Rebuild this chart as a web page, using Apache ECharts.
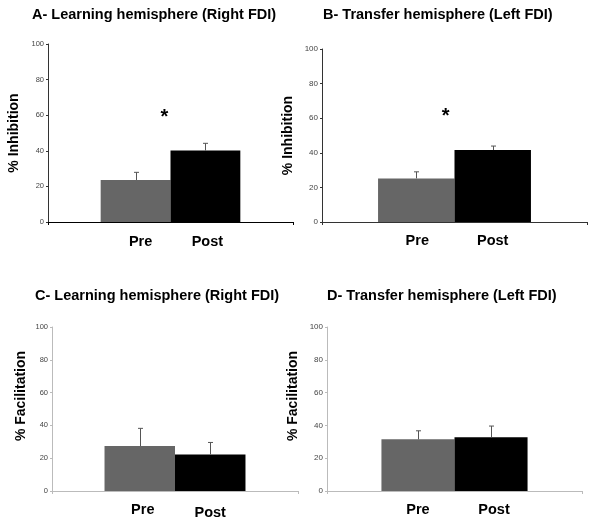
<!DOCTYPE html>
<html>
<head>
<meta charset="utf-8">
<script src="https://cdn.jsdelivr.net/npm/echarts@6/dist/echarts.min.js"></script>
<style>
  html, body { margin: 0; padding: 0; background: #fff; }
  #chart { width: 600px; height: 521px; }
</style>
</head>
<body>
<div id="chart"></div>
<script>
// group names (one category, two bars each)
const groups = ["Pre", "Post"];
const yTicks = [0, 20, 40, 60, 80, 100];

// A - learning hemisphere, % inhibition
const inhibRight = [23.6, 40.1];
const inhibRightErr = [4.3, 4.1];
// B - transfer hemisphere, % inhibition
const inhibLeft = [25.2, 41.6];
const inhibLeftErr = [3.8, 2.3];
// C - learning hemisphere, % facilitation
const facilRight = [27.4, 22.3];
const facilRightErr = [10.8, 7.3];
// D - transfer hemisphere, % facilitation
const facilLeft = [31.5, 32.7];
const facilLeftErr = [5.2, 6.9];

const titles = [
  "A- Learning hemisphere (Right FDI)",
  "B- Transfer hemisphere (Left FDI)",
  "C- Learning hemisphere (Right FDI)",
  "D- Transfer hemisphere (Left FDI)",
];
const yNames = ["% Inhibition", "% Inhibition", "% Facilitation", "% Facilitation"];
// significance marks, value where the star sits (null = none)
const starAt = [60, 62, null, null];

const FONT = "'Liberation Sans', Arial, sans-serif";
const PRE_COLOR = "#666666";
const POST_COLOR = "#000000";

const panels = [
  { means: inhibRight, errs: inhibRightErr, grid: { left: 48, top: 44, width: 245, height: 178 },
    gap: 0.43, title: { left: 32, top: 7 }, axis: "#333", xAxisColor: "#000", tickSize: 7.5,
    labelOff: [[5, 3], [2, 3]], nameGap: 27, namePad: 0, star: [-41, 2] },
  { means: inhibLeft, errs: inhibLeftErr, grid: { left: 322, top: 49, width: 265, height: 173 },
    gap: 0.423, title: { left: 323, top: 7 }, axis: "#333", xAxisColor: "#333", tickSize: 8,
    labelOff: [[1, 2], [0, 2]], nameGap: 27, namePad: 0, star: [-47, 2] },
  { means: facilRight, errs: facilRightErr, grid: { left: 52, top: 327, width: 246, height: 164 },
    gap: 0.427, title: { left: 35, top: 288 }, axis: "#bbb", xAxisColor: "#bbb", tickSize: 7.5,
    labelOff: [[3, 2], [0, 5]], nameGap: 24, namePad: 26 },
  { means: facilLeft, errs: facilLeftErr, grid: { left: 327, top: 327, width: 255, height: 164 },
    gap: 0.427, title: { left: 327, top: 288 }, axis: "#bbb", xAxisColor: "#bbb", tickSize: 8,
    labelOff: [[0, 2], [3, 2]], nameGap: 27, namePad: 26 },
];

const option = {
  backgroundColor: "#fff",
  animation: false,
  title: [],
  grid: [],
  xAxis: [],
  yAxis: [],
  series: [],
};

panels.forEach(function (p, i) {
  option.title.push({
    text: titles[i],
    left: p.title.left,
    top: p.title.top,
    padding: 0,
    textStyle: { fontFamily: FONT, fontSize: 14.5, fontWeight: "bold", color: "#000" },
  });
  option.grid.push(p.grid);
  option.xAxis.push({
    type: "category",
    gridIndex: i,
    data: ["x"],
    axisLine: { lineStyle: { color: p.xAxisColor, width: 1 } },
    axisTick: { show: true, length: 3, lineStyle: { color: p.xAxisColor } },
    axisLabel: { show: false },
    splitLine: { show: false },
  });
  option.yAxis.push({
    type: "value",
    gridIndex: i,
    min: yTicks[0],
    max: yTicks[yTicks.length - 1],
    interval: yTicks[1] - yTicks[0],
    name: yNames[i],
    nameLocation: "middle",
    nameGap: p.nameGap,
    nameTextStyle: {
      fontFamily: FONT, fontSize: 14, fontWeight: "bold", color: "#000",
      padding: [0, 0, 0, p.namePad],
    },
    axisLine: { show: true, lineStyle: { color: p.axis, width: 1 } },
    axisTick: { show: true, length: 2, lineStyle: { color: p.axis } },
    axisLabel: { fontFamily: FONT, fontSize: p.tickSize, color: "#444", margin: 4 },
    splitLine: { show: false },
  });

  groups.forEach(function (g, k) {
    const s = {
      name: g,
      type: "bar",
      xAxisIndex: i,
      yAxisIndex: i,
      data: [p.means[k]],
      barGap: "0%",
      barCategoryGap: (p.gap * 100).toFixed(1) + "%",
      itemStyle: { color: k === 0 ? PRE_COLOR : POST_COLOR },
      label: {
        show: true,
        position: "bottom",
        distance: 9,
        offset: p.labelOff[k],
        formatter: "{a}",
        fontFamily: FONT,
        fontSize: 14.5,
        fontWeight: "bold",
        color: "#000",
      },
      z: 2,
    };
    if (k === 1 && starAt[i] !== null) {
      s.markPoint = {
        symbol: "circle",
        symbolSize: 1,
        itemStyle: { color: "rgba(0,0,0,0)" },
        label: {
          show: true,
          formatter: "*",
          position: "inside",
          offset: p.star,
          fontFamily: FONT,
          fontSize: 20,
          fontWeight: "bold",
          color: "#000",
        },
        data: [{ coord: [0, starAt[i]] }],
      };
    }
    option.series.push(s);
  });

  // error bars: one line + cap on top of each bar
  const errData = groups.map(function (g, k) {
    return [0, p.means[k], p.errs[k], k];
  });
  option.series.push({
    type: "custom",
    xAxisIndex: i,
    yAxisIndex: i,
    data: errData,
    z: 3,
    renderItem: function (params, api) {
      const base = api.coord([api.value(0), api.value(1)]);
      const top = api.coord([api.value(0), api.value(1) + api.value(2)]);
      const band = api.size([1, 0])[0];
      const barW = band * (1 - p.gap) / 2;
      const x = Math.round(base[0] + (api.value(3) === 0 ? -barW / 2 : barW / 2)) + 0.5;
      const style = { stroke: "#555", lineWidth: 1 };
      return {
        type: "group",
        children: [
          { type: "line", shape: { x1: x, y1: base[1], x2: x, y2: top[1] }, style: style },
          { type: "line", shape: { x1: x - 2.5, y1: top[1], x2: x + 2.5, y2: top[1] }, style: style },
        ],
      };
    },
  });
});

const chart = echarts.init(document.getElementById("chart"), null, { renderer: "canvas" });
chart.setOption(option);
</script>
</body>
</html>
